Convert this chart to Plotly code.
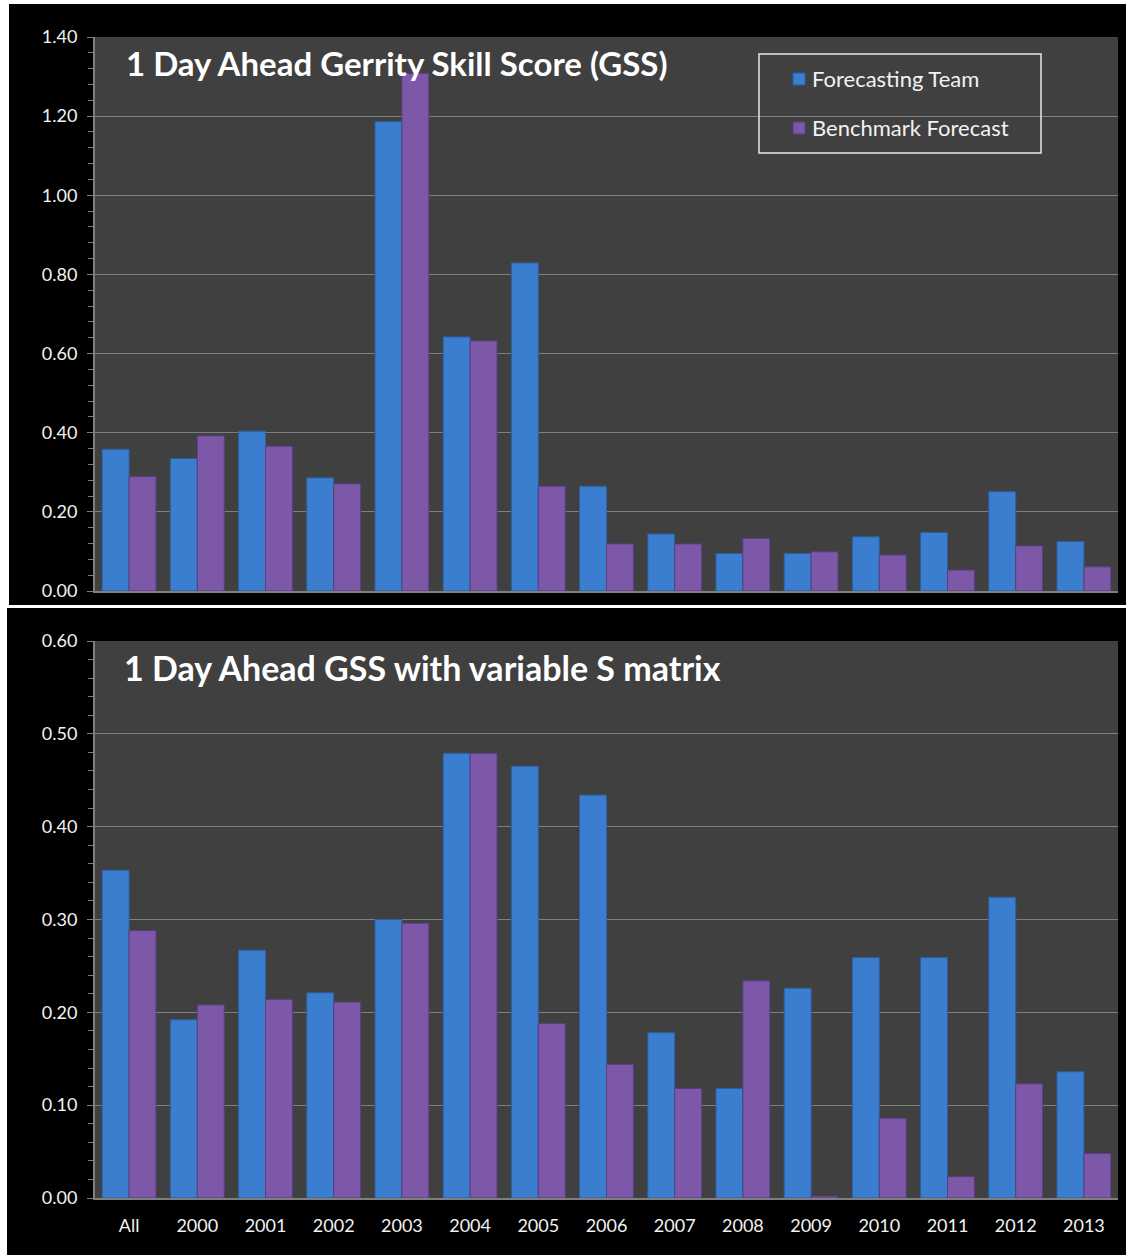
import plotly.graph_objects as go
from plotly.subplots import make_subplots

categories = ["All", "2000", "2001", "2002", "2003", "2004", "2005", "2006",
              "2007", "2008", "2009", "2010", "2011", "2012", "2013"]
team_gss = [0.358, 0.335, 0.404, 0.286, 1.186, 0.642, 0.829, 0.265,
            0.144, 0.095, 0.095, 0.137, 0.148, 0.251, 0.125]
bench_gss = [0.289, 0.392, 0.366, 0.271, 1.308, 0.632, 0.265, 0.119,
             0.119, 0.133, 0.099, 0.091, 0.053, 0.114, 0.061]
team_var = [0.353, 0.192, 0.267, 0.221, 0.300, 0.479, 0.465, 0.434,
            0.178, 0.118, 0.226, 0.259, 0.259, 0.324, 0.136]
bench_var = [0.288, 0.208, 0.214, 0.211, 0.296, 0.479, 0.188, 0.144,
             0.118, 0.234, 0.002, 0.086, 0.023, 0.123, 0.048]
series_names = ["Forecasting Team", "Benchmark Forecast"]
title_top = "1 Day Ahead Gerrity Skill Score (GSS)"
title_bottom = "1 Day Ahead GSS with variable S matrix"

W, H = 1126, 1255
L, R, T, B = 95, 8, 37, 57
PW, PH = W - L - R, H - T - B

def px(x):
    return (x - L) / PW

def py(y):
    return (H - B - y) / PH

BLUE = "#3b7dcf"
BLUE_EDGE = "#2b5f9f"
PURPLE = "#7d58a9"
PURPLE_EDGE = "#5b3d80"
GRID = "#7f7f7f"
TXT = "#f2f2f2"
FONT = "Lato"

fig = make_subplots(rows=2, cols=1, vertical_spacing=0.0)

for row, (a, b) in enumerate([(team_gss, bench_gss), (team_var, bench_var)], start=1):
    fig.add_trace(go.Bar(x=categories, y=a, name=series_names[0],
                         marker=dict(color=BLUE, line=dict(color=BLUE_EDGE, width=1)),
                         showlegend=False), row=row, col=1)
    fig.add_trace(go.Bar(x=categories, y=b, name=series_names[1],
                         marker=dict(color=PURPLE, line=dict(color=PURPLE_EDGE, width=1)),
                         showlegend=False), row=row, col=1)

top_dom = [py(591), py(37)]
bot_dom = [py(1198), py(641)]

common_y = dict(showgrid=True, gridcolor=GRID, gridwidth=1, zeroline=False,
                showline=True, linecolor=GRID, linewidth=2,
                ticks="outside", ticklen=6, tickcolor=GRID, tickformat=".2f",
                tickfont=dict(family=FONT, size=18, color=TXT),
                ticklabelstandoff=6)
fig.update_yaxes(range=[0, 1.4], dtick=0.2, domain=top_dom,
                 minor=dict(dtick=0.04, ticks="outside", ticklen=5, tickcolor=GRID, showgrid=False),
                 **common_y, row=1, col=1)
fig.update_yaxes(range=[0, 0.6], dtick=0.1, domain=bot_dom,
                 minor=dict(dtick=0.02, ticks="outside", ticklen=5, tickcolor=GRID, showgrid=False),
                 **common_y, row=2, col=1)
fig.update_xaxes(showline=True, linecolor=GRID, linewidth=2, showgrid=False,
                 ticks="", tickfont=dict(family=FONT, size=18, color=TXT))
fig.update_xaxes(showticklabels=False, row=1, col=1)
fig.update_xaxes(showticklabels=True, ticklabelstandoff=10, row=2, col=1)

shapes = []
# white frame strips around the two black panels
white = dict(type="rect", xref="paper", yref="paper", fillcolor="white", line=dict(width=0), layer="above")
shapes.append(dict(white, x0=px(0), x1=px(9), y0=py(0), y1=py(606)))
shapes.append(dict(white, x0=px(0), x1=px(7), y0=py(606), y1=py(H)))
shapes.append(dict(white, x0=px(0), x1=px(W), y0=py(0), y1=py(4)))
shapes.append(dict(white, x0=px(0), x1=px(W), y0=py(605), y1=py(608)))
# legend box
shapes.append(dict(type="rect", xref="paper", yref="paper", x0=px(759), x1=px(1041),
                   y0=py(153), y1=py(54), line=dict(color="#e6e6e6", width=1.5),
                   fillcolor="rgba(0,0,0,0)"))
shapes.append(dict(type="rect", xref="paper", yref="paper", x0=px(793), x1=px(805),
                   y0=py(85), y1=py(73), fillcolor=BLUE, line=dict(color=BLUE_EDGE, width=1)))
shapes.append(dict(type="rect", xref="paper", yref="paper", x0=px(793), x1=px(805),
                   y0=py(134), y1=py(122), fillcolor=PURPLE, line=dict(color=PURPLE_EDGE, width=1)))

annotations = [
    dict(text=f"<b>{title_top}</b>", xref="paper", yref="paper", x=px(124), y=py(63),
         xanchor="left", yanchor="middle", showarrow=False,
         font=dict(family=FONT, size=33, color="white")),
    dict(text=f"<b>{title_bottom}</b>", xref="paper", yref="paper", x=px(122), y=py(667),
         xanchor="left", yanchor="middle", showarrow=False,
         font=dict(family=FONT, size=34, color="white")),
    dict(text=series_names[0], xref="paper", yref="paper", x=px(810), y=py(79),
         xanchor="left", yanchor="middle", showarrow=False,
         font=dict(family=FONT, size=22, color=TXT)),
    dict(text=series_names[1], xref="paper", yref="paper", x=px(810), y=py(128),
         xanchor="left", yanchor="middle", showarrow=False,
         font=dict(family=FONT, size=22, color=TXT)),
]

fig.update_layout(width=W, height=H, margin=dict(l=L, r=R, t=T, b=B),
                  paper_bgcolor="black", plot_bgcolor="#404040",
                  barmode="group", bargap=0.21, bargroupgap=0.0,
                  showlegend=False, shapes=shapes, annotations=annotations,
                  font=dict(family=FONT, color=TXT))

fig.write_html("out.html")
